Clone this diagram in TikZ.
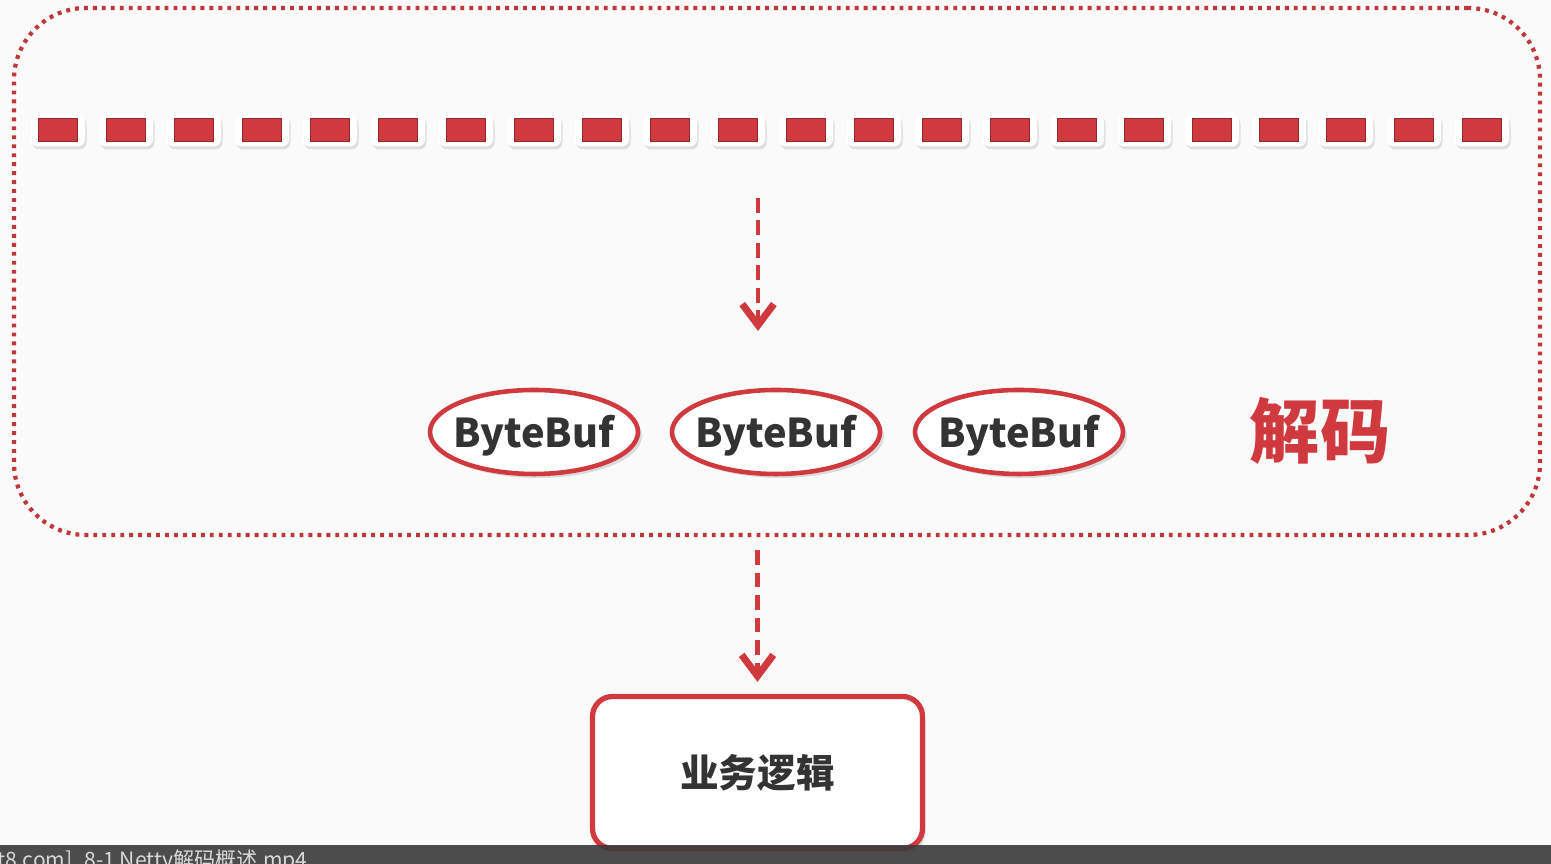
\documentclass[tikz,border=0pt]{standalone}
\usepackage{fontspec}
\setmainfont{Noto Sans CJK SC}
\usepackage{tikz}
\usetikzlibrary{arrows.meta,shapes.geometric,shadows}
\definecolor{decodeRed}{HTML}{D0393E}
\definecolor{dotRed}{HTML}{C0363A}
\definecolor{textGray}{HTML}{333333}
\definecolor{barGray}{HTML}{3A3A3A}
\newcommand{\bufText}{ByteBuf}

\begin{document}
\begin{tikzpicture}[
    frame/.style={draw=dotRed, line width=1.2pt, dash pattern=on 1.1pt off 1.45pt, rounded corners=0.72cm, minimum width=15.26cm, minimum height=5.27cm},
    cell/.style={fill=white, rounded corners=0.07cm, minimum width=0.54cm, minimum height=0.33cm, drop shadow={opacity=0.22, shadow xshift=0.015cm, shadow yshift=-0.03cm}},
    bit/.style={fill=decodeRed, draw=decodeRed!70!black, line width=0.3pt, minimum width=0.39cm, minimum height=0.18cm},
    buf/.style={ellipse, draw=decodeRed, line width=1.3pt, fill=white, minimum width=2.08cm, minimum height=0.84cm, inner sep=0pt, drop shadow={opacity=0.25, shadow xshift=0.04cm, shadow yshift=-0.04cm}},
    bufname/.style={text=textGray, inner sep=0pt, yshift=-0.04cm, font=\bfseries\fontsize{11.3}{13}\selectfont},
    logicbox/.style={draw=decodeRed, line width=1.5pt, fill=white, rounded corners=0.2cm, minimum width=3.3cm, minimum height=1.52cm, text=textGray, font=\bfseries\fontsize{11}{13}\selectfont, drop shadow={opacity=0.25, shadow xshift=0.03cm, shadow yshift=-0.04cm}},
    flow/.style={draw=decodeRed, line width=1.3pt, dash pattern=on 4.2pt off 2.2pt, -{Straight Barb[length=6pt, width=9pt, line width=2pt]}}
]
        \useasboundingbox (0,0) rectangle (15.51,8.64);
        \fill [color=white!98!black] (0,0) rectangle (15.51,8.64);

        \coordinate (flowTop) at (7.58, 6.66);
        \coordinate (flowEnd) at (7.58, 5.33);

        % outer dotted frame
        \node[frame] (decode) at (7.77, 5.925) {};

        % byte stream
        \node[cell] (c1) at (0.58, 7.34) {};
        \node[cell] (c2) at (1.26, 7.34) {};
        \node[cell] (c3) at (1.94, 7.34) {};
        \node[cell] (c4) at (2.62, 7.34) {};
        \node[cell] (c5) at (3.30, 7.34) {};
        \node[cell] (c6) at (3.98, 7.34) {};
        \node[cell] (c7) at (4.66, 7.34) {};
        \node[cell] (c8) at (5.34, 7.34) {};
        \node[cell] (c9) at (6.02, 7.34) {};
        \node[cell] (c10) at (6.70, 7.34) {};
        \node[cell] (c11) at (7.38, 7.34) {};
        \node[cell] (c12) at (8.06, 7.34) {};
        \node[cell] (c13) at (8.74, 7.34) {};
        \node[cell] (c14) at (9.42, 7.34) {};
        \node[cell] (c15) at (10.10, 7.34) {};
        \node[cell] (c16) at (10.77, 7.34) {};
        \node[cell] (c17) at (11.44, 7.34) {};
        \node[cell] (c18) at (12.12, 7.34) {};
        \node[cell] (c19) at (12.79, 7.34) {};
        \node[cell] (c20) at (13.46, 7.34) {};
        \node[cell] (c21) at (14.14, 7.34) {};
        \node[cell] (c22) at (14.82, 7.34) {};
        \node[bit] at (c1) {};
        \node[bit] at (c2) {};
        \node[bit] at (c3) {};
        \node[bit] at (c4) {};
        \node[bit] at (c5) {};
        \node[bit] at (c6) {};
        \node[bit] at (c7) {};
        \node[bit] at (c8) {};
        \node[bit] at (c9) {};
        \node[bit] at (c10) {};
        \node[bit] at (c11) {};
        \node[bit] at (c12) {};
        \node[bit] at (c13) {};
        \node[bit] at (c14) {};
        \node[bit] at (c15) {};
        \node[bit] at (c16) {};
        \node[bit] at (c17) {};
        \node[bit] at (c18) {};
        \node[bit] at (c19) {};
        \node[bit] at (c20) {};
        \node[bit] at (c21) {};
        \node[bit] at (c22) {};

        \draw [flow] (flowTop) -- (flowEnd);

        % decoded buffers
        \node[buf] (buf1) at (5.34, 4.32) {};
        \node[buf] (buf2) at (7.76, 4.32) {};
        \node[buf] (buf3) at (10.19, 4.32) {};
        \node[bufname] (name1) at (buf1) {\bufText};
        \node[bufname] (name2) at (buf2) {\bufText};
        \node[bufname] (name3) at (buf3) {\bufText};
        \node[text=decodeRed, font=\bfseries\fontsize{20}{22}\selectfont] (decodeLabel) at (13.20, 4.33) {解码};

        % business logic
        \node[logicbox] (logic) at (7.575, 0.915) {业务逻辑};
        \draw [flow, shorten <=0.13cm, shorten >=0.12cm] (decode.south -| logic.north) -- (logic.north);

        % player bar
        \fill [color=barGray, opacity=0.9] (0,0) rectangle (15.51,0.19);
        \node[anchor=north west, inner sep=0pt, text=white!85!black, font=\fontsize{6}{7}\selectfont] (caption) at (-0.03, 0.15) {t8.com]\_8-1 Netty解码概述.mp4};
\end{tikzpicture}
\end{document}
